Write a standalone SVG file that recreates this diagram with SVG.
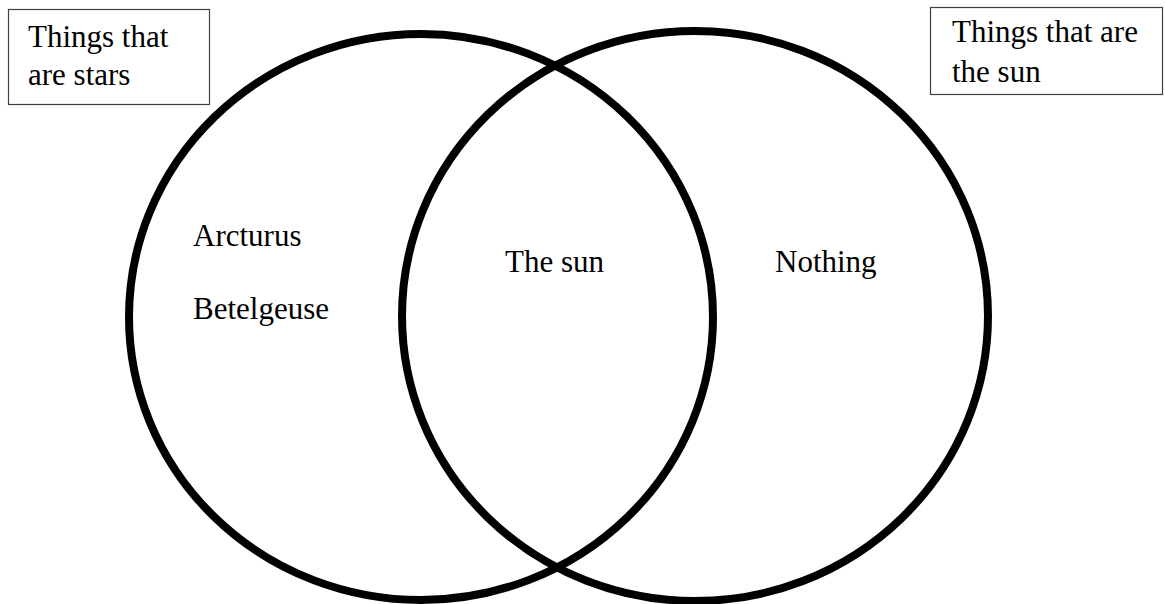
<svg xmlns="http://www.w3.org/2000/svg" width="1165" height="604" viewBox="0 0 1165 604">
<style>
.lbl{font-family:"Liberation Serif","Times New Roman",serif;font-size:31px;fill:#000}
.box{fill:#fff;stroke:#404040;stroke-width:1.2}
.ring{fill:none;stroke:#000;stroke-width:8}
</style>
<rect width="1165" height="604" fill="#fff"/>
<g id="connectors"></g>
<g id="circle-stars"><ellipse class="ring" cx="421" cy="317" rx="292" ry="283"/></g>
<g id="circle-sun"><ellipse class="ring" cx="695" cy="316" rx="293" ry="285"/></g>
<g id="box-stars">
<rect class="box" x="8.5" y="9.5" width="201" height="95"/>
<text class="lbl" x="28" y="47">Things that</text>
<text class="lbl" x="28" y="85">are stars</text>
</g>
<g id="box-sun">
<rect class="box" x="930.5" y="7.5" width="232" height="87"/>
<text class="lbl" x="952" y="42">Things that are</text>
<text class="lbl" x="952" y="82">the sun</text>
</g>
<g id="left-only">
<text class="lbl" x="193" y="246">Arcturus</text>
<text class="lbl" x="193" y="319">Betelgeuse</text>
</g>
<g id="both"><text class="lbl" x="505" y="272">The sun</text></g>
<g id="right-only"><text class="lbl" x="775" y="272">Nothing</text></g>
</svg>
